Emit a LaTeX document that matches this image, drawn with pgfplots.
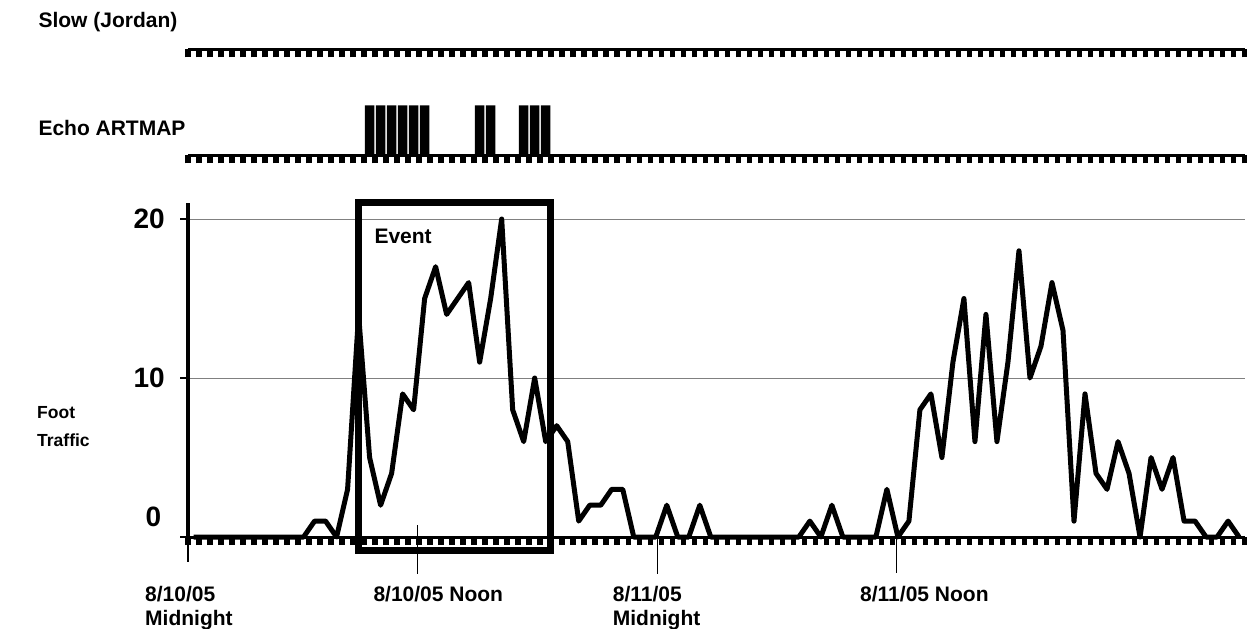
\documentclass[border=0pt]{standalone}
\usepackage{fontspec}
\setmainfont{Liberation Sans}
\usepackage{pgfplots}
\pgfplotsset{compat=1.18}

\newcommand\fa{\fontsize{21bp}{24bp}\selectfont\bfseries}
\newcommand\fy{\fontsize{28bp}{30bp}\selectfont\bfseries}
\newcommand\fs{\fontsize{17.5bp}{20bp}\selectfont\bfseries}

\pgfplotsset{
  strip/.style={
    scale only axis, width=1056.7bp,
    xmin=-0.5, xmax=95.5, ymin=0, ymax=1,
    axis x line*=bottom, axis y line=none,
    x axis line style={line width=3bp},
    xtick={-0.5,0.5,...,95.5}, xticklabel=\empty, ytick=\empty,
    tick align=outside, major tick length=8bp,
    x tick style={line width=5.5bp, black},
  }
}

\begin{document}
\begin{tikzpicture}
\useasboundingbox (0,0) rectangle (1247bp,-629bp);

% Slow (Jordan): no detections
\begin{axis}[strip, at={(188bp,-49.3bp)}, anchor=south west, height=40bp]
  \addplot[draw=none] coordinates {(0,0)};
\end{axis}

% Echo ARTMAP detections
\begin{axis}[strip, at={(188bp,-155.3bp)}, anchor=south west, height=50bp]
  \addplot[ybar, bar width=9.5bp, bar shift=0pt, fill=black, draw=none]
    coordinates {(16,1) (17,1) (18,1) (19,1) (20,1) (21,1)
                 (26,1) (27,1) (30,1) (31,1) (32,1)};
\end{axis}

% foot traffic
\begin{axis}[
    scale only axis, width=1056.7bp, height=333.9bp,
    at={(188bp,-537bp)}, anchor=south west,
    xmin=-0.5, xmax=95.5, ymin=0, ymax=21, clip=false,
    axis x line*=bottom, axis y line*=left,
    x axis line style={line width=3bp}, y axis line style={line width=4bp},
    xtick={-0.5,0.5,...,95.5}, xticklabel=\empty,
    ytick={0,10,20}, yticklabels={,10,20},
    tick align=outside, major tick length=8bp,
    x tick style={line width=5.5bp, black}, y tick style={line width=1.5bp, black},
    ymajorgrids, major grid style={gray, line width=1bp},
    yticklabel style={font=\fy, inner sep=0pt, anchor=east, xshift=-15bp},
  ]
  \addplot[black, line width=5bp, line join=round, mark=none] table {
x y
0 0
1 0
2 0
3 0
4 0
5 0
6 0
7 0
8 0
9 0
10 0
11 1
12 1
13 0
14 3
15 14
16 5
17 2
18 4
19 9
20 8
21 15
22 17
23 14
24 15
25 16
26 11
27 15
28 20
29 8
30 6
31 10
32 6
33 7
34 6
35 1
36 2
37 2
38 3
39 3
40 0
41 0
42 0
43 2
44 0
45 0
46 2
47 0
48 0
49 0
50 0
51 0
52 0
53 0
54 0
55 0
56 1
57 0
58 2
59 0
60 0
61 0
62 0
63 3
64 0
65 1
66 8
67 9
68 5
69 11
70 15
71 6
72 14
73 6
74 11
75 18
76 10
77 12
78 16
79 13
80 1
81 9
82 4
83 3
84 6
85 4
86 0
87 5
88 3
89 5
90 1
91 1
92 0
93 0
94 1
95 0
};
  % event window
  \draw[line width=7bp] (axis cs:14.97,-0.82) rectangle (axis cs:32.42,21.04);
  \node[anchor=west, inner sep=0pt, font=\fa] at (axis cs:16.43,18.93) {Event};
  % time marks
  \draw[line width=1.5bp] (axis cs:-0.5,1.51) -- (axis cs:-0.5,-1.57);
  \draw[line width=1.5bp] (axis cs:20.37,0.75) -- (axis cs:20.37,-2.33);
  \draw[line width=1.5bp] (axis cs:42.14,0) -- (axis cs:42.14,-2.33);
  \draw[line width=1.5bp] (axis cs:63.89,0.63) -- (axis cs:63.89,-2.26);
\end{axis}

\node[anchor=east, inner sep=0pt, font=\fy] at (161.5bp,-516.7bp) {0};

\node[anchor=base west, inner sep=0pt, font=\fa] at (38.3bp,-27.5bp) {Slow (Jordan)};
\node[anchor=base west, inner sep=0pt, font=\fa] at (38.3bp,-135bp) {Echo ARTMAP};
\node[anchor=base west, inner sep=0pt, font=\fs] at (37bp,-418bp) {Foot};
\node[anchor=base west, inner sep=0pt, font=\fs] at (37bp,-446bp) {Traffic};

\node[anchor=base west, inner sep=0pt, font=\fa] at (145bp,-601.5bp) {8/10/05};
\node[anchor=base west, inner sep=0pt, font=\fa] at (145bp,-625.5bp) {Midnight};
\node[anchor=base west, inner sep=0pt, font=\fa] at (373.3bp,-601.5bp) {8/10/05 Noon};
\node[anchor=base west, inner sep=0pt, font=\fa] at (612.7bp,-601.5bp) {8/11/05};
\node[anchor=base west, inner sep=0pt, font=\fa] at (612.7bp,-625.5bp) {Midnight};
\node[anchor=base west, inner sep=0pt, font=\fa] at (860bp,-601.5bp) {8/11/05 Noon};
\end{tikzpicture}
\end{document}
